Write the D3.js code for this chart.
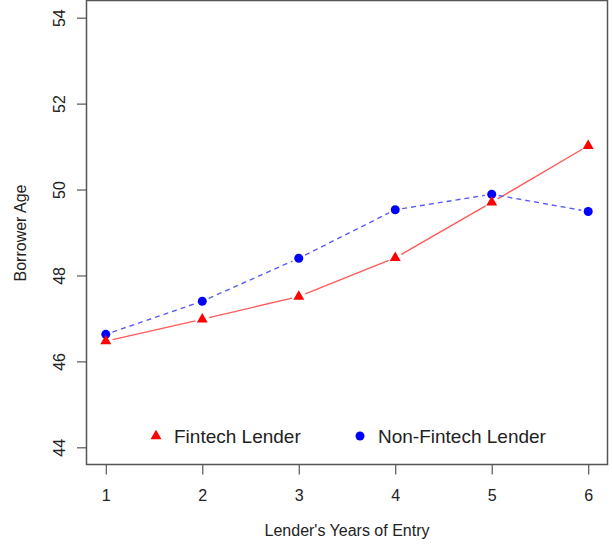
<!DOCTYPE html>
<html>
<head>
<meta charset="utf-8">
<script src="https://cdn.jsdelivr.net/npm/d3@7"></script>
<style>
  body { margin: 0; background: #fff; }
  text { font-family: "Liberation Sans", Arial, sans-serif; fill: #222; }
</style>
</head>
<body>
<div id="chart"></div>
<script>
var years = [1, 2, 3, 4, 5, 6];
var fintech = [46.47, 46.98, 47.51, 48.41, 49.70, 51.02];
var nonFintech = [46.63, 47.40, 48.40, 49.53, 49.89, 49.49];
var yTicks = [44, 46, 48, 50, 52, 54];
var seriesNames = ["Fintech Lender", "Non-Fintech Lender"];

var width = 612, height = 548;
var svg = d3.select("#chart").append("svg")
    .attr("width", width)
    .attr("height", height);

// R-style 4% padding on both axes
var x = d3.scaleLinear().domain([0.8, 6.2]).range([86.5, 607.5]);
var y = d3.scaleLinear().domain([43.6, 54.4]).range([464.5, 0.5]);

var axisCol = "#555";

// plot box
svg.append("rect")
    .attr("x", x(0.8)).attr("y", y(54.4))
    .attr("width", x(6.2) - x(0.8)).attr("height", y(43.6) - y(54.4))
    .attr("fill", "none").attr("stroke", axisCol).attr("stroke-width", 1.5);

// y axis
var yAxis = svg.append("g")
    .attr("transform", "translate(" + x(0.8) + ",0)")
    .call(d3.axisLeft(y).tickValues(yTicks).tickSize(9.5).tickFormat(d3.format("d")));
yAxis.select(".domain").remove();
yAxis.selectAll(".tick line").attr("stroke", axisCol).attr("stroke-width", 1.2);
yAxis.selectAll(".tick text")
    .attr("x", 0).attr("dy", 0)
    .attr("transform", "translate(-22,0) rotate(-90)")
    .attr("text-anchor", "middle")
    .style("font-size", "16px").style("font-family", "Liberation Sans, Arial, sans-serif").attr("fill", "#222");

// x axis
var xAxis = svg.append("g")
    .attr("transform", "translate(0," + y(43.6) + ")")
    .call(d3.axisBottom(x).tickValues(years).tickSize(10).tickFormat(d3.format("d")));
xAxis.select(".domain").remove();
xAxis.selectAll(".tick line").attr("stroke", axisCol).attr("stroke-width", 1.2);
xAxis.selectAll(".tick text")
    .attr("y", 36).attr("dy", 0)
    .style("font-size", "16px").style("font-family", "Liberation Sans, Arial, sans-serif").attr("fill", "#222");

// axis titles
svg.append("text")
    .attr("transform", "translate(26,233) rotate(-90)")
    .attr("text-anchor", "middle")
    .style("font-size", "16px")
    .text("Borrower Age");
svg.append("text")
    .attr("x", 347).attr("y", 536)
    .attr("text-anchor", "middle")
    .style("font-size", "16px")
    .text("Lender's Years of Entry");

// lines with gaps around points (type = "b")
function segments(vals) {
  var segs = [];
  for (var i = 0; i < vals.length - 1; i++) {
    var x0 = x(years[i]), y0 = y(vals[i]), x1 = x(years[i + 1]), y1 = y(vals[i + 1]);
    var len = Math.hypot(x1 - x0, y1 - y0), gap = 7;
    var ux = (x1 - x0) / len, uy = (y1 - y0) / len;
    segs.push([x0 + ux * gap, y0 + uy * gap, x1 - ux * gap, y1 - uy * gap]);
  }
  return segs;
}

svg.selectAll(".seg-f").data(segments(fintech)).enter().append("line")
    .attr("class", "seg-f")
    .attr("x1", function(d) { return d[0]; }).attr("y1", function(d) { return d[1]; })
    .attr("x2", function(d) { return d[2]; }).attr("y2", function(d) { return d[3]; })
    .attr("stroke", "#ff5a5a").attr("stroke-width", 1.4);

svg.selectAll(".seg-n").data(segments(nonFintech)).enter().append("line")
    .attr("class", "seg-n")
    .attr("x1", function(d) { return d[0]; }).attr("y1", function(d) { return d[1]; })
    .attr("x2", function(d) { return d[2]; }).attr("y2", function(d) { return d[3]; })
    .attr("stroke", "#5a5aff").attr("stroke-width", 1.4)
    .attr("stroke-dasharray", "5,4");

var tri = d3.symbol().type(d3.symbolTriangle).size(52);

svg.selectAll(".pt-n").data(nonFintech).enter().append("circle")
    .attr("class", "pt-n")
    .attr("cx", function(d, i) { return x(years[i]); })
    .attr("cy", function(d) { return y(d); })
    .attr("r", 4.5).attr("fill", "#0000ff");

svg.selectAll(".pt-f").data(fintech).enter().append("path")
    .attr("class", "pt-f")
    .attr("d", tri)
    .attr("transform", function(d, i) { return "translate(" + x(years[i]) + "," + y(d) + ")"; })
    .attr("fill", "#ff0000");

// legend
var legend = svg.append("g");
legend.append("path").attr("d", tri)
    .attr("transform", "translate(156,436)").attr("fill", "#ff0000");
legend.append("text").attr("x", 174).attr("y", 443)
    .style("font-size", "19px").text(seriesNames[0]);
legend.append("circle").attr("cx", 360).attr("cy", 436).attr("r", 4.5).attr("fill", "#0000ff");
legend.append("text").attr("x", 378).attr("y", 443)
    .style("font-size", "19px").text(seriesNames[1]);
</script>
</body>
</html>
